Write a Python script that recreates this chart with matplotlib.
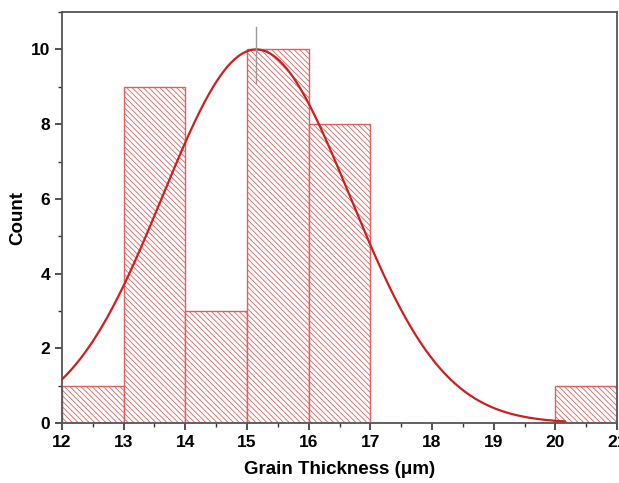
import numpy as np
import matplotlib.pyplot as plt
from matplotlib.ticker import MultipleLocator

plt.rcParams['font.family'] = ['Liberation Sans', 'DejaVu Sans']
plt.rcParams['hatch.linewidth'] = 0.6
plt.rcParams['hatch.color'] = '#e07a7a'

bin_left = [12, 13, 14, 15, 16, 17, 18, 19, 20]
counts = [1, 9, 3, 10, 8, 0, 0, 0, 1]
fit_mean = 15.15
fit_sigma = 1.52
fit_height = 10.0
fit_range = (12.0, 20.15)

fig = plt.figure(figsize=(6.19, 4.83), dpi=100)
ax = fig.add_axes([0.1, 0.124, 0.897, 0.851])

ax.bar(bin_left, counts, width=1, align='edge', facecolor='white',
       edgecolor='#e06060', hatch='\\\\\\\\\\\\', linewidth=1.0)

xs = np.linspace(fit_range[0], fit_range[1], 300)
ys = fit_height * np.exp(-(xs - fit_mean) ** 2 / (2 * fit_sigma ** 2))
ax.plot(xs, ys, color='#cc1f1f', lw=1.6, zorder=3)
ax.plot([fit_mean, fit_mean], [fit_height - 0.9, fit_height + 0.6], color='#999999', lw=1, zorder=4)

ax.set_xlim(12, 21)
ax.set_ylim(0, 11)
ax.xaxis.set_major_locator(MultipleLocator(1))
ax.xaxis.set_minor_locator(MultipleLocator(0.5))
ax.yaxis.set_major_locator(MultipleLocator(2))
ax.yaxis.set_minor_locator(MultipleLocator(1))
ax.set_yticks([0, 2, 4, 6, 8, 10])
ax.tick_params(which='major', direction='out', length=5, width=1.2, colors='#333333', labelsize=12.5)
ax.tick_params(which='minor', direction='out', length=3, width=1.0, colors='#333333')
ax.tick_params(axis='both', labelcolor='black')
for lab in ax.get_xticklabels() + ax.get_yticklabels():
    lab.set_fontweight('bold')
for s in ax.spines.values():
    s.set_color('#555555')
    s.set_linewidth(1.3)

ax.set_xlabel('Grain Thickness (\u03bcm)', fontsize=13.5, fontweight='bold', labelpad=8)
ax.set_ylabel('Count', fontsize=13.5, fontweight='bold', labelpad=3)

fig.savefig('out.png', dpi=100)
